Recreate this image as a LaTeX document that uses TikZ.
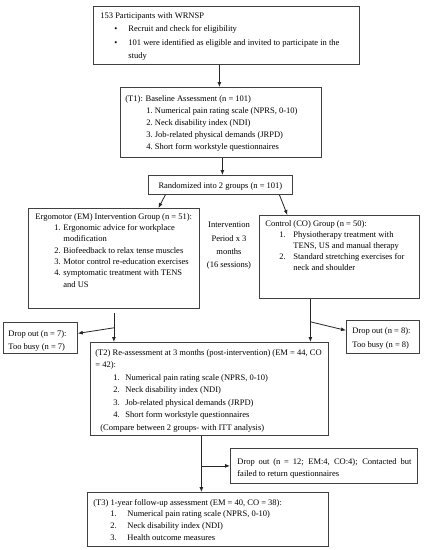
\documentclass[tikz,border=0pt]{standalone}
\usepackage{fontspec}
\setmainfont{Liberation Serif}
\usetikzlibrary{arrows.meta,calc}
% width, height, left pad, right pad, baselineskip, first baseline, content
\newcommand{\boxtxt}[7]{\parbox[t][#2][t]{#1}{\leftskip=#3\rightskip=#4\fontsize{8.5}{#5}\selectfont\rule{0pt}{#6}#7}}
\newcommand{\itm}[3]{\hspace*{#1}\makebox[#2][l]{#3}}
\tikzset{
  box/.style={draw=black!75, line width=0.8pt, anchor=north west, inner sep=0pt},
  arr/.style={-{Latex[length=5pt,width=4pt]}, line width=0.8pt, black!85},
  midtext/.style={align=center, font=\fontsize{8.5}{13.3}\selectfont, inner sep=0pt}
}
\begin{document}
\begin{tikzpicture}[x=1pt,y=1pt]
\fill[white] (0,0) rectangle (424,-550);
\useasboundingbox (0,0) rectangle (424,-550);

\node[box] (p) at (93,-6) {\boxtxt{266pt}{58pt}{7pt}{3pt}{13.2pt}{12.3pt}{153 Participants with WRNSP\\
\itm{14pt}{14pt}{\textbullet}Recruit and check for eligibility\\
\itm{14pt}{14pt}{\textbullet}101 were identified as eligible and invited to participate in the\\
\hspace*{28pt}study}};

\node[box] (t1) at (120,-87) {\boxtxt{201pt}{70pt}{5pt}{2pt}{12pt}{13.7pt}{(T1): Baseline Assessment (n = 101)\\
\itm{21pt}{8.5pt}{1.}Numerical pain rating scale (NPRS, 0-10)\\
\itm{21pt}{8.5pt}{2.}Neck disability index (NDI)\\
\itm{21pt}{8.5pt}{3.}Job-related physical demands (JRPD)\\
\itm{21pt}{8.5pt}{4.}Short form workstyle questionnaires}};

\node[box] (rand) at (148,-175) {\boxtxt{144pt}{19pt}{0pt}{0pt}{12pt}{12.7pt}{\centering Randomized into 2 groups (n = 101)\par}};

\node[box] (em) at (28,-208) {\boxtxt{171pt}{100pt}{7pt}{2pt}{11.3pt}{10.8pt}{Ergomotor (EM) Intervention Group (n = 51):\\
\itm{19pt}{9pt}{1.}Ergonomic advice for workplace\\
\hspace*{28pt}modification\\
\itm{19pt}{9pt}{2.}Biofeedback to relax tense muscles\\
\itm{19pt}{9pt}{3.}Motor control re-education exercises\\
\itm{19pt}{9pt}{4.}symptomatic treatment with TENS\\
\hspace*{28pt}and US}};

\node[midtext] (iv) at (229,-246) {Intervention\\Period x 3\\months\\(16 sessions)};

\node[box] (co) at (259,-215) {\boxtxt{160pt}{83pt}{6pt}{2pt}{11pt}{10.7pt}{Control (CO) Group (n = 50):\\
\itm{14pt}{14pt}{1.}Physiotherapy treatment with\\
\hspace*{28pt}TENS, US and manual therapy\\
\itm{14pt}{14pt}{2.}Standard stretching exercises for\\
\hspace*{28pt}neck and shoulder}};

\node[box] (dropL) at (3,-322) {\boxtxt{74pt}{31pt}{5pt}{1pt}{13pt}{14.5pt}{Drop out (n = 7):\\
Too busy (n = 7)}};

\node[box] (dropR) at (346,-320) {\boxtxt{73pt}{33pt}{6pt}{1pt}{14pt}{13pt}{Drop out (n = 8):\\
Too busy (n = 8)}};

\node[box] (t2) at (90,-342) {\boxtxt{238pt}{93pt}{5pt}{1pt}{12.5pt}{12.7pt}{(T2) Re-assessment at 3 months (post-intervention) (EM = 44, CO\\
= 42):\\
\itm{18pt}{12pt}{1.}Numerical pain rating scale (NPRS, 0-10)\\
\itm{18pt}{12pt}{2.}Neck disability index (NDI)\\
\itm{18pt}{12pt}{3.}Job-related physical demands (JRPD)\\
\itm{18pt}{12pt}{4.}Short form workstyle questionnaires\\
\hspace*{5pt}(Compare between 2 groups- with ITT analysis)}};

\node[box] (drop3) at (230,-448) {\boxtxt{187pt}{35pt}{7pt}{6pt}{12pt}{15.7pt}{Drop out (n = 12; EM:4, CO:4); Contacted but\linebreak failed to return questionnaires}};

\node[box] (t3) at (87,-492) {\boxtxt{241pt}{54pt}{6pt}{1pt}{11.7pt}{12.7pt}{(T3) 1-year follow-up assessment (EM = 40, CO = 38):\\
\itm{17pt}{17pt}{1.}Numerical pain rating scale (NPRS, 0-10)\\
\itm{17pt}{17pt}{2.}Neck disability index (NDI)\\
\itm{17pt}{17pt}{3.}Health outcome measures}};

% connectors
\coordinate (a1) at ($(p.south)+(-7,0)$);
\draw[arr] (a1) -- (a1 |- t1.north);
\coordinate (a2) at ($(t1.south)+(1.5,0)$);
\draw[arr] (a2) -- (a2 |- rand.north);
\draw[arr] ([xshift=-55pt]rand.south) -- ([xshift=44.5pt]em.north);
\draw[arr] ([xshift=59pt]rand.south) -- ([xshift=-52pt]co.north);

\coordinate (c1) at ([yshift=-4pt]em.south);
\draw[arr] (c1) -- (c1 |- t2.north);
\coordinate (b1) at ([yshift=-15pt]c1);
\draw[arr] (b1) -- ([yshift=4.5pt]dropL.east);

\coordinate (c2) at ([xshift=-29pt]co.south);
\draw[arr] (c2) -- (c2 |- t2.north);
\coordinate (b2) at ([yshift=-23pt]c2);
\draw[arr] (b2) -- ([yshift=6.5pt]dropR.west);

\coordinate (c3) at ([xshift=-8pt]t2.south);
\draw[arr] (c3) -- (c3 |- t3.north);
\draw[arr] (c3 |- drop3.west) -- (drop3.west);
\end{tikzpicture}
\end{document}
